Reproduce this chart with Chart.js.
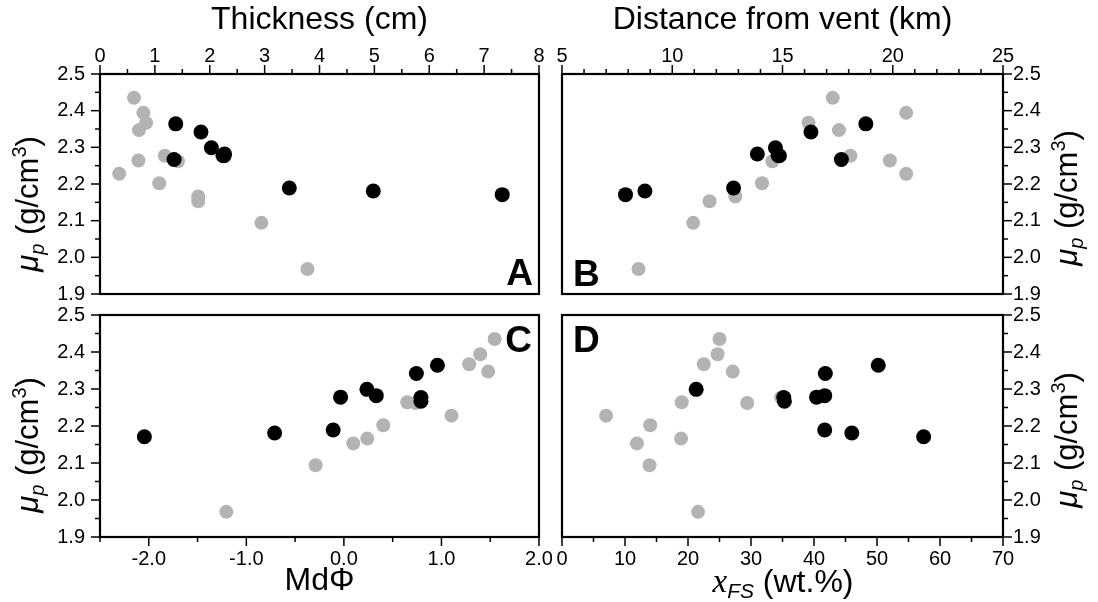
<!DOCTYPE html>
<html>
<head>
<meta charset="utf-8">
<script src="https://cdn.jsdelivr.net/npm/chart.js@4.4.1/dist/chart.umd.min.js"></script>
<style>
  html, body { margin: 0; padding: 0; background: #fff; }
  #wrap { position: relative; width: 1098px; height: 602px; }
  #wrap canvas { position: absolute; left: 0; top: 0; }
</style>
</head>
<body>
<div id="wrap">
  <canvas id="panelA" width="1098" height="602"></canvas>
  <canvas id="panelB" width="1098" height="602"></canvas>
  <canvas id="panelC" width="1098" height="602"></canvas>
  <canvas id="panelD" width="1098" height="602"></canvas>
</div>
<script>
// pumice density, same samples in every panel
const muBlack = [2.171, 2.181, 2.189, 2.278, 2.299, 2.282, 2.342, 2.277, 2.267, 2.364];
const muGrey  = [2.435, 2.394, 2.367, 2.347, 2.264, 2.262, 2.277, 2.228, 2.202, 2.166, 2.153, 2.094, 1.968];

// A: thickness (cm)
const thickBlack = [7.33, 4.98, 3.45, 2.24, 2.03, 2.27, 1.84, 2.26, 1.35, 1.38];
const thickGrey  = [0.62, 0.79, 0.84, 0.71, 0.70, 1.42, 1.18, 0.35, 1.08, 1.79, 1.79, 2.94, 3.78];

// B: distance from vent (km)
const distBlack = [7.88, 8.76, 12.78, 14.8, 14.68, 13.86, 16.29, 14.86, 17.67, 18.78];
const distGrey  = [17.28, 20.61, 16.18, 17.56, 19.87, 14.54, 18.08, 20.61, 14.07, 12.86, 11.69, 10.95, 8.47];

// C: Md phi
const mdBlack = [-2.045, -0.71, -0.11, -0.034, 0.236, 0.332, 0.743, 0.79, 0.79, 0.959];
const mdGrey  = [1.545, 1.397, 1.284, 1.479, 0.65, 0.736, 0.79, 1.103, 0.404, 0.24, 0.096, -0.29, -1.205];

// D: x_FS (wt.%)
const xfsBlack = [57.4, 46.0, 41.7, 40.4, 21.3, 41.7, 41.8, 35.2, 35.3, 50.2];
const xfsGrey  = [25.0, 24.7, 22.5, 27.1, 19.0, 29.4, 34.8, 7.0, 14.0, 18.9, 11.9, 13.9, 21.6];

const FONT = "'Liberation Sans', Arial, sans-serif";

const isMult = (v, m) => Math.abs(v / m - Math.round(v / m)) < 1e-6;

// frame, two-length tick marks, panel letter and rich axis titles
const deco = {
  id: 'deco',
  afterDatasetsDraw(chart, args, opts) {
    const ctx = chart.ctx;
    const a = chart.chartArea;
    ctx.save();
    ctx.strokeStyle = '#000';
    ctx.lineWidth = 2.2;
    ctx.strokeRect(a.left, a.top, a.right - a.left, a.bottom - a.top);

    ctx.lineWidth = 1.5;
    Object.values(chart.scales).forEach(s => {
      s.ticks.forEach(t => {
        const len = (t.label !== '' && t.label != null) ? 9 : 5;
        const p = s.getPixelForValue(t.value);
        ctx.beginPath();
        if (s.position === 'top') { ctx.moveTo(p, a.top); ctx.lineTo(p, a.top - len); }
        if (s.position === 'bottom') { ctx.moveTo(p, a.bottom); ctx.lineTo(p, a.bottom + len); }
        if (s.position === 'left') { ctx.moveTo(a.left, p); ctx.lineTo(a.left - len, p); }
        if (s.position === 'right') { ctx.moveTo(a.right, p); ctx.lineTo(a.right + len, p); }
        ctx.stroke();
      });
    });

    ctx.fillStyle = '#000';
    ctx.font = 'bold 37px ' + FONT;
    ctx.textAlign = opts.letterAlign;
    ctx.textBaseline = 'alphabetic';
    ctx.fillText(opts.letter, opts.letterX, opts.letterY);
    ctx.textAlign = 'left';

    opts.titles.forEach(t => drawRich(ctx, t.parts, t.x, t.y, t.rotate));
    ctx.restore();
  }
};

function drawRich(ctx, parts, x, y, rotate) {
  ctx.save();
  ctx.translate(x, y);
  if (rotate) ctx.rotate(-Math.PI / 2);
  let w = 0;
  parts.forEach(p => { ctx.font = p.font; p.w = ctx.measureText(p.text).width; w += p.w; });
  let cx = -w / 2;
  ctx.textBaseline = 'alphabetic';
  ctx.fillStyle = '#000';
  parts.forEach(p => { ctx.font = p.font; ctx.fillText(p.text, cx, p.dy || 0); cx += p.w; });
  ctx.restore();
}

const muTitle = [
  {text: 'μ', font: 'italic 31px ' + FONT},
  {text: 'p', font: 'italic 20px ' + FONT, dy: 6},
  {text: ' (g/cm', font: '31px ' + FONT},
  {text: '3', font: '20px ' + FONT, dy: -12},
  {text: ')', font: '31px ' + FONT}
];
const xfsTitle = [
  {text: 'x', font: "italic 33px 'Liberation Serif', serif"},
  {text: 'FS', font: 'italic 21px ' + FONT, dy: 6},
  {text: ' (wt.%)', font: '32px ' + FONT}
];

function yLabel(v) { return isMult(v, 0.1) ? v.toFixed(1) : ''; }

function makePanel(id, c) {
  const pts = (xs, ys) => xs.map((x, i) => ({x, y: ys[i]}));
  const tickFont = {family: FONT, size: 20};
  new Chart(document.getElementById(id), {
    type: 'scatter',
    data: {
      datasets: [
        { data: pts(c.xBlack, muBlack), backgroundColor: '#000', pointRadius: 7.5, pointBorderWidth: 0, pointHoverRadius: 7.5 },
        { data: pts(c.xGrey, muGrey), backgroundColor: '#b3b3b3', pointRadius: 7, pointBorderWidth: 0, pointHoverRadius: 7 }
      ]
    },
    options: {
      responsive: false,
      animation: false,
      events: [],
      layout: { padding: c.padding },
      plugins: {
        legend: { display: false },
        tooltip: { enabled: false },
        deco: { letter: c.letter, letterAlign: c.letterAlign, letterX: c.letterX, letterY: c.letterY, titles: c.titles }
      },
      scales: {
        x: {
          type: 'linear',
          position: c.xPos,
          min: c.xMin, max: c.xMax,
          ticks: { stepSize: c.xStep, autoSkip: false, maxRotation: 0, color: '#000', font: tickFont, padding: c.xPos === 'top' ? 6 : 10, callback: c.xLabel },
          grid: { display: false, drawTicks: false },
          border: { display: false },
          title: c.xTitle ? { display: true, text: c.xTitle, color: '#000', font: {family: FONT, size: 32}, padding: {top: 1, bottom: 2} } : { display: false },
          afterFit: s => { s.height = c.xH; }
        },
        y: {
          type: 'linear',
          position: c.yPos,
          min: 1.9, max: 2.5,
          ticks: { stepSize: 0.05, autoSkip: false, color: '#000', font: tickFont, padding: c.yPos === 'left' ? 15 : 10, callback: yLabel },
          grid: { display: false, drawTicks: false },
          border: { display: false },
          afterFit: s => { s.width = c.yW; }
        }
      }
    },
    plugins: [deco]
  });
}

makePanel('panelA', {
  xBlack: thickBlack, xGrey: thickGrey,
  xPos: 'top', xMin: 0, xMax: 8, xStep: 0.5,
  xLabel: v => isMult(v, 1) ? String(Math.round(v)) : '',
  xTitle: 'Thickness (cm)', xH: 74,
  yPos: 'left', yW: 100,
  padding: {left: 0, top: 0, right: 559, bottom: 308},
  letter: 'A', letterAlign: 'right', letterX: 533, letterY: 285,
  titles: [{parts: muTitle, x: 38, y: 204, rotate: true}]
});

makePanel('panelB', {
  xBlack: distBlack, xGrey: distGrey,
  xPos: 'top', xMin: 5, xMax: 25, xStep: 1,
  xLabel: v => isMult(v, 5) ? String(Math.round(v)) : '',
  xTitle: 'Distance from vent (km)', xH: 74,
  yPos: 'right', yW: 95,
  padding: {left: 562, top: 0, right: 0, bottom: 308},
  letter: 'B', letterAlign: 'left', letterX: 573, letterY: 286,
  titles: [{parts: muTitle, x: 1077, y: 198, rotate: true}]
});

makePanel('panelC', {
  xBlack: mdBlack, xGrey: mdGrey,
  xPos: 'bottom', xMin: -2.5, xMax: 2.0, xStep: 0.5,
  xLabel: v => isMult(v, 1) ? v.toFixed(1) : '',
  xTitle: 'MdΦ', xH: 65,
  yPos: 'left', yW: 100,
  padding: {left: 0, top: 315, right: 559, bottom: 0},
  letter: 'C', letterAlign: 'right', letterX: 532, letterY: 352,
  titles: [{parts: muTitle, x: 38, y: 445, rotate: true}]
});

makePanel('panelD', {
  xBlack: xfsBlack, xGrey: xfsGrey,
  xPos: 'bottom', xMin: 0, xMax: 70, xStep: 5,
  xLabel: v => isMult(v, 10) ? String(Math.round(v)) : '',
  xTitle: null, xH: 65,
  yPos: 'right', yW: 95,
  padding: {left: 562, top: 315, right: 0, bottom: 0},
  letter: 'D', letterAlign: 'left', letterX: 573, letterY: 352,
  titles: [
    {parts: muTitle, x: 1077, y: 440, rotate: true},
    {parts: xfsTitle, x: 783, y: 592, rotate: false}
  ]
});
</script>
</body>
</html>
